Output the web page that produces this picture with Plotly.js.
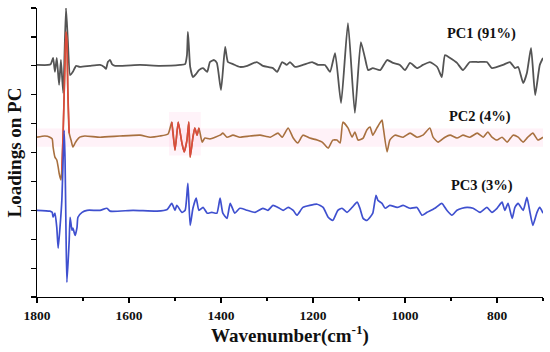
<!DOCTYPE html>
<html><head><meta charset="utf-8">
<script src="https://cdn.plot.ly/plotly-3.0.1.min.js"></script>
<style>html,body{margin:0;padding:0;background:#fff}#chart{width:550px;height:352px}</style>
</head><body><div id="chart"></div>
<script>
// Wavenumbers (cm-1) and loadings (in plot units, before vertical offset)
const pc1Wave = [1800,1776,1770,1765,1761,1757,1752,1748,1743,1737,1733,1728,1722,1715,1707,1685,1663,1654,1650,1646,1641,1637,1630,1576,1533,1489,1478,1474,1472,1470,1467,1461,1454,1448,1439,1430,1424,1415,1409,1400,1391,1385,1374,1359,1343,1322,1309,1287,1278,1267,1257,1250,1239,1222,1202,1189,1174,1163,1152,1139,1124,1109,1096,1087,1080,1070,1054,1039,1026,1011,1000,989,974,961,946,930,920,913,902,887,874,859,841,822,811,787,772,761,754,743,735,726,717,707,700];
const pc1Load = [0.03,0.03,0.06,0.27,-0.21,0.27,-0.66,0.20,-0.94,2.00,0.89,-0.32,-0.21,0.0,-0.04,0.0,0.03,-0.04,-0.11,0.13,0.20,0.06,0.0,0.03,0.0,0.03,0.06,0.37,1.17,0.72,-0.04,-0.39,-0.28,-0.15,-0.08,-0.21,0.13,0.20,0.10,-0.84,0.65,0.13,0.06,-0.04,0.0,0.13,0.0,-0.08,-0.21,0.13,0.03,0.13,-0.04,0.03,0.13,0.03,0.03,-0.21,0.44,-1.29,1.48,-1.63,0.82,0.27,-0.15,-0.08,-0.15,0.20,0.10,0.03,-0.15,0.10,-0.08,0.03,0.13,-0.04,-0.39,0.37,0.27,0.10,-0.15,0.13,0.13,0.13,-0.08,0.03,0.13,-0.08,-0.04,-0.60,-0.25,0.62,-1.01,0.03,0.27];

const pc2Wave = [1800,1783,1772,1767,1765,1761,1757,1754,1752,1748,1746,1743,1739,1737,1735,1733,1730,1726,1722,1717,1713,1707,1696,1663,1620,1576,1554,1533,1515,1507,1500,1493,1485,1480,1474,1470,1467,1461,1457,1452,1448,1441,1435,1424,1402,1396,1387,1374,1359,1337,1315,1293,1276,1267,1254,1243,1233,1222,1207,1191,1180,1167,1157,1148,1141,1135,1124,1115,1109,1102,1091,1083,1076,1070,1061,1050,1048,1039,1033,1022,1004,989,974,961,946,939,928,913,902,887,874,859,843,830,820,811,800,789,778,765,754,743,733,722,711,700];
const pc2Load = [0.03,0.07,0.03,-0.03,-0.31,-0.66,-0.76,-1.00,-1.21,-1.45,-1.11,0.28,2.70,3.67,3.39,1.66,0.17,-0.07,-0.31,-0.17,-0.07,0.03,0.07,0.03,0.07,0.10,0.03,0.07,0.14,0.55,-0.42,0.55,-0.17,-0.48,-0.07,0.55,-0.66,0.03,0.35,0.10,0.35,-0.14,0.0,-0.03,0.10,0.17,0.03,0.10,0.03,0.07,0.10,0.03,0.17,0.03,0.35,0.0,-0.17,0.10,0.0,-0.07,-0.14,-0.35,-0.07,-0.07,-0.17,0.55,0.35,0.03,0.21,-0.07,0.0,0.28,0.38,0.10,0.35,0.62,0.45,-0.48,-0.07,0.10,0.03,0.17,0.03,0.10,0.35,0.03,-0.14,0.03,0.10,0.0,0.10,0.03,0.17,0.03,0.21,0.03,-0.07,0.03,-0.14,0.10,0.03,-0.14,0.03,0.17,-0.07,0.03];

const pc3Wave = [1800,1772,1767,1765,1761,1757,1754,1750,1746,1741,1739,1737,1735,1730,1728,1724,1722,1717,1713,1711,1702,1691,1663,1648,1641,1591,1539,1517,1507,1500,1496,1485,1478,1472,1467,1461,1454,1448,1439,1430,1420,1409,1402,1396,1387,1380,1370,1359,1343,1326,1309,1298,1287,1276,1265,1254,1243,1235,1222,1207,1191,1178,1167,1157,1146,1137,1126,1115,1104,1098,1091,1083,1076,1070,1063,1059,1050,1043,1033,1017,1004,989,974,963,952,935,920,909,898,887,876,865,852,837,822,811,800,789,783,776,767,761,754,743,735,728,722,713,707,700];
const pc3Load = [0.0,-0.03,-0.07,-0.24,-0.10,-0.59,-1.31,-0.59,0.35,2.77,1.73,-0.69,-2.49,-1.04,-0.24,-0.69,-0.62,-0.87,-0.59,-0.24,-0.07,0.0,0.0,0.07,-0.03,0.0,-0.03,0.03,0.24,0.0,0.17,-0.07,0.0,0.93,-0.52,0.07,0.42,0.0,0.10,-0.10,-0.07,-0.10,0.42,-0.10,-0.28,0.24,-0.10,0.07,0.0,-0.07,0.07,0.0,0.17,0.10,0.0,0.10,0.0,-0.17,0.10,0.17,0.21,0.10,-0.24,-0.35,0.0,0.07,-0.07,0.10,0.28,0.07,-0.28,-0.35,-0.24,-0.10,0.52,0.35,0.24,0.07,0.17,0.10,0.17,0.07,0.10,-0.17,-0.07,0.07,0.24,0.0,-0.17,0.0,0.07,0.10,0.07,-0.07,0.10,-0.07,0.07,0.28,0.0,0.24,-0.28,0.10,0.24,0.0,0.45,-0.10,-0.52,-0.07,0.10,-0.10];

const seriesNames = ["PC1 (91%)", "PC2 (4%)", "PC3 (3%)"];
const offsets = [8, 5.5, 3];
// wavenumber ranges of PC2 drawn highlighted in red
const highlightRanges = [[1746, 1730], [1510, 1448]];

const xTicks = [1800, 1600, 1400, 1200, 1000, 800];

const serif = "Liberation Serif, Times New Roman, serif";
const shift = (arr, o) => arr.map(v => v + o);

function pick(wave, load, lo, hi) {
  const xs = [], ys = [];
  wave.forEach((w, i) => { if (w <= lo && w >= hi) { xs.push(w); ys.push(load[i]); } });
  return {xs, ys};
}

const ln = (c, w) => ({color: c, width: w, shape: "spline", smoothing: 0.5});
const traces = [
  {x: pc1Wave, y: shift(pc1Load, offsets[0]), mode: "lines", line: ln("#545454", 1.8), name: seriesNames[0]},
  {x: pc2Wave, y: shift(pc2Load, offsets[1]), mode: "lines", line: ln("#a8703f", 1.6), name: seriesNames[1]}
];
highlightRanges.forEach(r => {
  const p = pick(pc2Wave, pc2Load, r[0], r[1]);
  traces.push({x: p.xs, y: shift(p.ys, offsets[1]), mode: "lines", line: ln("#dc4a3c", 1.6), showlegend: false});
});
traces.push({x: pc3Wave, y: shift(pc3Load, offsets[2]), mode: "lines", line: ln("#3f50cf", 1.7), name: seriesNames[2]});

const labelPos = [[754, 9.13], [766, 6.23], [761, 3.85]];
const annotations = seriesNames.map((n, i) => ({
  x: labelPos[i][0], y: labelPos[i][1], xref: "x", yref: "y", text: n, showarrow: false,
  xanchor: "right", yanchor: "middle",
  font: {family: serif, size: 14.5, color: "#111", weight: "bold"}
}));

const layout = {
  width: 550, height: 352,
  margin: {l: 37, r: 7, t: 8, b: 55},
  paper_bgcolor: "#fff", plot_bgcolor: "#fff",
  showlegend: false,
  xaxis: {
    range: [1800, 700], tickvals: xTicks, ticktext: xTicks.map(String),
    ticks: "outside", ticklen: 5, tickwidth: 1.2, tickcolor: "#000",
    minor: {dtick: 100, tick0: 1800, ticks: "outside", ticklen: 3, tickcolor: "#000"},
    showline: true, linecolor: "#000", linewidth: 1.3, showgrid: false, zeroline: false,
    tickfont: {family: serif, size: 13.5, color: "#111", weight: "bold"},
    title: {text: "Wavenumber(cm<sup>-1</sup>)", standoff: 6, font: {family: serif, size: 19, color: "#111", weight: "bold"}}
  },
  yaxis: {
    range: [0, 10], dtick: 1, tick0: 0, showticklabels: false,
    ticks: "outside", ticklen: 5, tickwidth: 1.2, tickcolor: "#000",
    showline: true, linecolor: "#000", linewidth: 1.3, showgrid: false, zeroline: false,
    title: {text: "Loadings on PC", standoff: 4, font: {family: serif, size: 19, color: "#111", weight: "bold"}}
  },
  shapes: [
    {type: "rect", xref: "paper", x0: 0, x1: 1, yref: "y", y0: offsets[1] - 0.3, y1: offsets[1] + 0.33,
     fillcolor: "rgba(255,160,205,0.14)", line: {width: 0}, layer: "below"},
    {type: "rect", xref: "x", x0: highlightRanges[1][0] + 3, x1: highlightRanges[1][1] - 4, yref: "y", y0: offsets[1] - 0.6, y1: offsets[1] + 0.9,
     fillcolor: "rgba(255,160,205,0.12)", line: {width: 0}, layer: "below"}
  ],
  annotations: annotations
};

Plotly.newPlot("chart", traces, layout, {staticPlot: true, displayModeBar: false});
</script></body></html>
